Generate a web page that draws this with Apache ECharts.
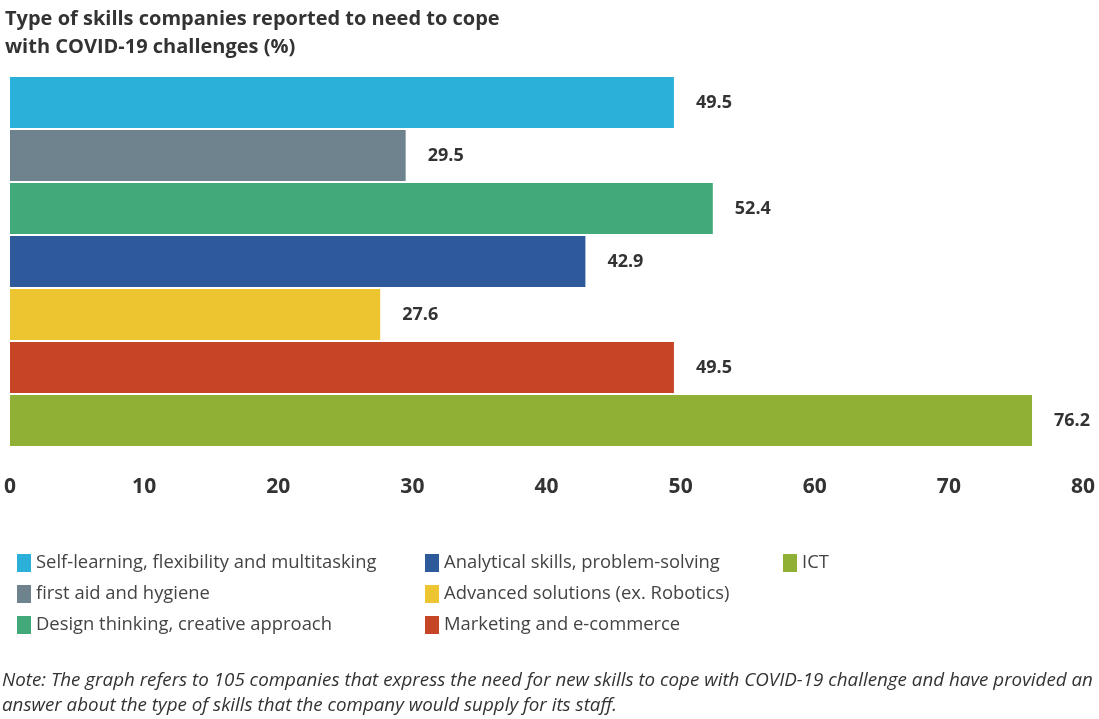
<!DOCTYPE html>
<html><head><meta charset="utf-8">
<script src="https://cdn.jsdelivr.net/npm/echarts@6/dist/echarts.min.js"></script>
<style>html,body{margin:0;padding:0;background:#fff}#c{width:1099px;height:719px}</style>
</head><body><div id="c"></div>
<script>
const categories = ["Self-learning, flexibility and multitasking","first aid and hygiene","Design thinking, creative approach","Analytical skills, problem-solving","Advanced solutions (ex. Robotics)","Marketing and e-commerce","ICT"];
const values = [49.5, 29.5, 52.4, 42.9, 27.6, 49.5, 76.2];
const colors = ["#2bb1d9","#6e838e","#42aa7a","#2e5a9c","#ecc531","#c64527","#8fb035"];
const xTicks = [0,10,20,30,40,50,60,70,80];

const series = categories.map((name,i)=>({
  name, type:'bar', stack:'all', barCategoryGap:'4%',
  itemStyle:{color:colors[i]},
  data: values.map((v,j)=> j===i ? v : '-'),
  label:{show:true, position:'right', distance:22, color:'#333', fontSize:18, fontWeight:'bold', fontFamily:'Open Sans',
    formatter:p=>p.value.toFixed(1)}
}));
const legendBase = {orient:'vertical', itemWidth:14, itemHeight:18, itemGap:13, icon:'rect',
  textStyle:{color:'#444', fontSize:18.4, fontFamily:'Open Sans'}};
const chart = echarts.init(document.getElementById('c'));
chart.setOption({
  animation:false,
  title:{text:'Type of skills companies reported to need to cope\nwith COVID-19 challenges (%)', left:0, top:0,
    textStyle:{fontSize:20, fontWeight:'bold', color:'#333', fontFamily:'Open Sans', lineHeight:28}},
  graphic:[{type:'text', left:2, top:668, style:{text:'Note: The graph refers to 105 companies that express the need for new skills to cope with COVID-19 challenge and have provided an\nanswer about the type of skills that the company would supply for its staff.',
    font:'italic 18.8px "Open Sans"', fill:'#333', lineHeight:25}}],
  legend:[
    Object.assign({}, legendBase, {left:12, top:549, data:categories.slice(0,3)}),
    Object.assign({}, legendBase, {left:420, top:549, data:categories.slice(3,6)}),
    Object.assign({}, legendBase, {left:778, top:549, data:categories.slice(6)})
  ],
  grid:{left:10, right:16, top:76, bottom:272, containLabel:false},
  xAxis:{type:'value', min:0, max:80, interval:10, splitLine:{show:false}, axisLine:{show:false}, axisTick:{show:false},
    axisLabel:{margin:30, color:'#333', fontSize:21, fontWeight:'bold', fontFamily:'Open Sans',
      formatter:v=> xTicks.includes(v) ? String(v) : ''}},
  yAxis:{type:'category', inverse:true, data:categories, axisLine:{show:false}, axisTick:{show:false}, axisLabel:{show:false}},
  series
});
</script></body></html>
